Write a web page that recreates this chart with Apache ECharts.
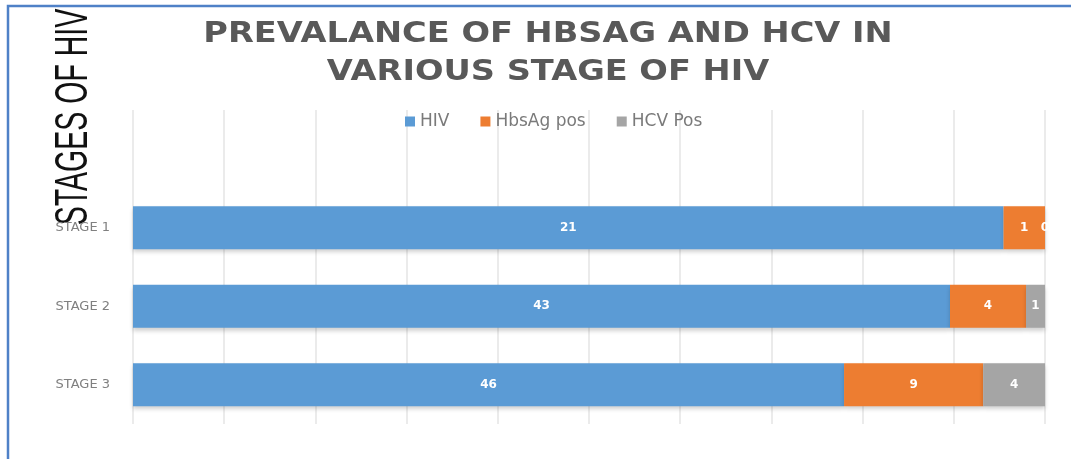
<!DOCTYPE html>
<html>
<head>
<meta charset="utf-8">
<script src="https://cdn.jsdelivr.net/npm/echarts@6/dist/echarts.min.js"></script>
<style>
  html, body { margin: 0; padding: 0; background: #fff; }
  #chartBox { width: 1071px; height: 459px; }
</style>
</head>
<body>
<div id="chartBox"></div>
<script>
// stages, bottom to top (top row is left empty like the original)
const categories = ["STAGE 3", "STAGE 2", "STAGE 1", ""];
const seriesNames = ["HIV", "HbsAg pos", "HCV Pos"];
const hivCounts = [46, 43, 21];
const hbsagCounts = [9, 4, 1];
const hcvCounts = [4, 1, 0];
const titleLines = ["PREVALANCE OF HBSAG AND HCV IN", "VARIOUS STAGE OF HIV"];
const axisTitle = "STAGES OF HIV";
const colors = ["#5b9bd5", "#ed7d31", "#a5a5a5"];

const chartDom = document.getElementById("chartBox");
const myChart = echarts.init(chartDom);

// 100% stacked: each bar is share of the stage total, label shows the count
const totals = hivCounts.map((v, i) => v + hbsagCounts[i] + hcvCounts[i]);
function toShare(arr) {
  return arr.map((v, i) => ({ value: (v / totals[i]) * 100, raw: v }));
}

function makeSeries(name, arr, color) {
  return {
    name: name,
    type: "bar",
    stack: "all",
    barWidth: 43,
    data: toShare(arr),
    itemStyle: {
      color: color,
      shadowColor: "rgba(0,0,0,0.18)",
      shadowBlur: 4,
      shadowOffsetY: 3,
    },
    label: {
      show: true,
      position: "inside",
      color: "#fff",
      fontFamily: "DejaVu Sans",
      fontSize: 12,
      fontWeight: "bold",
      formatter: (p) => p.data.raw,
    },
  };
}

const option = {
  animation: false,
  color: colors,
  grid: { left: 133, right: 26, top: 110, bottom: 35 },
  legend: {
    top: 108,
    left: 400,
    icon: "rect",
    itemWidth: 10,
    itemHeight: 10,
    itemGap: 31,
    textStyle: { color: "#7a7a7a", fontFamily: "DejaVu Sans", fontSize: 17 },
    data: seriesNames,
  },
  xAxis: {
    type: "value",
    min: 0,
    max: 100,
    interval: 10,
    axisLabel: { show: false },
    axisLine: { show: false },
    axisTick: { show: false },
    splitLine: { lineStyle: { color: "#e4e4e4", width: 1.5 } },
  },
  yAxis: {
    type: "category",
    data: categories,
    axisLine: { show: false },
    axisTick: { show: false },
    axisLabel: {
      color: "#808080",
      fontFamily: "DejaVu Sans",
      fontSize: 13,
      margin: 23,
    },
  },
  graphic: [
    {
      type: "rect",
      silent: true,
      z: -1,
      shape: { x: 8, y: 6, width: 1120, height: 520 },
      style: { fill: "none", stroke: "#4f81c7", lineWidth: 2.5 },
    },
    {
      type: "text",
      x: 548,
      y: 35,
      scaleX: 1.2,
      style: {
        text: titleLines[0],
        x: 0,
        y: 0,
        align: "center",
        verticalAlign: "middle",
        font: "bold 28px 'DejaVu Sans'",
        fill: "#595959",
        shadowColor: "rgba(0,0,0,0.25)",
        shadowBlur: 3,
        shadowOffsetY: 2,
      },
    },
    {
      type: "text",
      x: 548,
      y: 73,
      scaleX: 1.2,
      style: {
        text: titleLines[1],
        x: 0,
        y: 0,
        align: "center",
        verticalAlign: "middle",
        font: "bold 28px 'DejaVu Sans'",
        fill: "#595959",
        shadowColor: "rgba(0,0,0,0.25)",
        shadowBlur: 3,
        shadowOffsetY: 2,
      },
    },
    {
      type: "text",
      x: 74,
      y: 117,
      rotation: Math.PI / 2,
      scaleX: 0.62,
      style: {
        text: axisTitle,
        x: 0,
        y: 0,
        align: "center",
        verticalAlign: "middle",
        font: "46px 'Liberation Sans'",
        fill: "#111",
      },
    },
  ],
  series: [
    makeSeries(seriesNames[0], hivCounts, colors[0]),
    makeSeries(seriesNames[1], hbsagCounts, colors[1]),
    makeSeries(seriesNames[2], hcvCounts, colors[2]),
  ],
};

option && myChart.setOption(option);
</script>
</body>
</html>
